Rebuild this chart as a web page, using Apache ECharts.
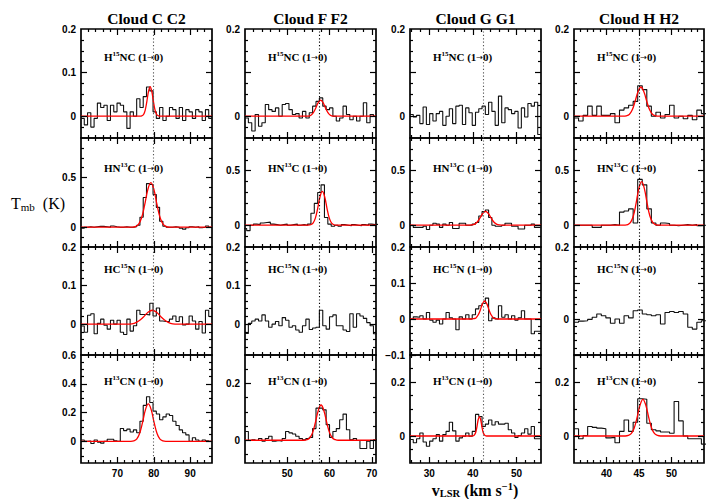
<!DOCTYPE html>
<html><head><meta charset="utf-8">
<script src="https://cdn.jsdelivr.net/npm/echarts@6/dist/echarts.min.js"></script>
<style>html,body{margin:0;padding:0;background:#fff}#c{width:707px;height:499px}</style>
</head><body><div id="c"></div>
<script>
// ---------------- data ----------------
const cloudTitles = ['Cloud C C2', 'Cloud F F2', 'Cloud G G1', 'Cloud H H2'];
const lineNames = [['H', '15', 'NC'], ['HN', '13', 'C'], ['HC', '15', 'N'], ['H', '13', 'CN']];
const transitionParts = ['(1', '\u2192', '0)'];
const xRanges = [[60, 96], [40, 71], [25.6, 55.6], [35, 55]];
const xTickLabels = [[70, 80, 90], [50, 60, 70], [30, 40, 50], [40, 45, 50]];
const xMinorSteps = [2, 2, 2, 1];
const systemicV = [79.9, 57.5, 42.4, 45.0];
const yRanges = [
  [[-0.05, 0.2], [-0.05, 0.2], [-0.05, 0.2], [-0.05, 0.2]],
  [[-0.2, 0.9], [-0.2, 0.8], [-0.2, 0.8], [-0.2, 0.8]],
  [[-0.08, 0.2], [-0.08, 0.2], [-0.1, 0.2], [-0.1, 0.2]],
  [[-0.15, 0.6], [-0.08, 0.3], [-0.1, 0.3], [-0.1, 0.3]]
];
const yTicks = [
  [[0, 0.1], [0, 0.1], [0, 0.1], [0, 0.1]],
  [[0, 0.5], [0, 0.5], [0, 0.5], [0, 0.5]],
  [[0, 0.1], [0, 0.1], [-0.1, 0, 0.1], [-0.1, 0, 0.1]],
  [[0, 0.2, 0.4], [0, 0.2], [0, 0.2], [0, 0.2]]
];
const yTickLabels = [
  [[0, 0.1, 0.2], [0, 0.2], [0, 0.2], [0, 0.2]],
  [[0, 0.5], [0, 0.5], [0, 0.5], [0, 0.5]],
  [[0, 0.1, 0.2], [0, 0.1, 0.2], [-0.1, 0, 0.1, 0.2], [0, 0.2]],
  [[0, 0.2, 0.4, 0.6], [0, 0.2], [0, 0.2], [0, 0.2]]
];
const yMinorSteps = [
  [0.025, 0.025, 0.025, 0.025],
  [0.1, 0.1, 0.1, 0.1],
  [0.02, 0.02, 0.02, 0.02],
  [0.05, 0.05, 0.05, 0.05]
];
// channel grid: first channel left edge [row][col], channel width per column (km/s)
const chanStart = [[60, 40, 25.6, 35], [60, 39.6, 25.6, 35], [60, 40, 25.6, 35], [60, 40, 25.6, 35]];
const chanWidth = [0.9, 0.8, 0.75, 0.7];

// spectra (T_mb, K)
const tC_H15NC = [-0.005,-0.02,0.008,-0.025,-0.005,0.03,0.02,0.025,-0.01,0.025,0.01,0.03,0.025,0.01,-0.028,0.01,0.0,0.04,0.02,0.045,0.067,0.058,0.01,-0.005,0.02,-0.01,0.0,0.02,0.015,-0.005,0.02,-0.01,0.015,0.01,-0.005,0.015,0.01,-0.01,0.015,-0.005];
const tF_H15NC = [-0.004,-0.015,-0.034,0.004,-0.023,-0.015,0.027,0.015,0.011,0.019,0.0,0.027,0.029,0.015,0.004,0.006,-0.004,0.011,-0.004,0.008,0.023,0.034,0.042,0.023,0.015,0.019,0.0,-0.011,-0.004,0.023,0.004,-0.008,0.0,-0.011,0.0,0.031,-0.015,0.004,0.0];
const tG_H15NC = [0.004,-0.002,0.002,-0.017,0.021,-0.019,0.006,-0.011,0.006,0.011,-0.021,0.0,0.017,-0.017,0.023,0.025,-0.019,0.019,0.008,-0.021,0.009,0.017,0.023,0.004,0.032,0.011,-0.021,0.046,-0.015,0.019,0.015,0.006,0.011,-0.027,0.019,-0.002,0.029,0.023,0.032,-0.042];
const tH_H15NC = [-0.004,-0.011,0.002,0.023,0.002,0.023,0.002,0.002,0.006,-0.015,0.014,0.019,0.025,0.034,0.07,0.061,0.023,0.0,0.009,-0.004,0.004,0.025,-0.004,0.0,-0.006,0.002,-0.008,0.014,0.006];

const tC_HN13C = [-0.01,0.0,0.005,0.0,0.005,0.01,0.008,0.005,0.0,0.012,0.005,0.0,0.0,0.005,0.0,0.0,0.005,0.02,0.1,0.3,0.44,0.43,0.33,0.2,0.06,0.01,0.0,0.0,0.005,0.0,-0.01,-0.02,-0.005,0.005,0.0,0.005,-0.005,0.0,0.012,0.0];
const tF_HN13C = [-0.03,-0.05,0.0,0.01,0.005,0.02,0.025,0.028,0.01,0.005,0.0,0.005,0.01,0.0,0.005,0.01,0.0,0.005,0.0,0.01,0.11,0.2,0.3,0.37,0.07,0.01,-0.01,0.0,-0.01,0.005,0.0,-0.005,0.005,0.0,-0.005,0.005,0.0,0.01,0.005,0.008];
const tG_HN13C = [0.0,-0.02,-0.02,-0.02,-0.01,-0.04,0.0,0.018,0.01,-0.02,0.01,0.0,0.025,-0.03,-0.03,0.018,0.018,0.0,0.0,0.01,0.025,0.085,0.125,0.14,0.07,0.0,-0.01,-0.01,0.0,0.018,0.018,-0.01,-0.01,-0.035,-0.035,0.0,0.0,0.01,-0.02,-0.02];
const tH_HN13C = [0.0,0.0,0.0,0.0,-0.02,-0.02,0.0,0.0,0.005,0.0,0.12,0.13,0.15,0.02,0.42,0.37,0.15,0.02,0.0,0.02,0.015,0.0,-0.005,0.0,0.005,0.0,0.005,-0.005,0.0];

const tC_HC15N = [-0.005,-0.021,0.023,0.027,-0.025,0.002,0.013,-0.003,-0.013,0.01,0.0,0.01,-0.021,-0.027,0.013,-0.018,-0.004,0.036,0.025,0.025,0.024,0.054,0.021,0.042,0.008,0.007,0.007,0.013,0.021,0.007,0.019,-0.002,0.0,0.021,0.008,-0.013,0.007,-0.023,0.036,0.02];
const tF_HC15N = [-0.024,0.002,0.008,0.013,0.008,0.024,0.008,-0.008,0.0,0.007,-0.004,0.017,0.01,-0.008,-0.004,-0.015,-0.021,-0.004,0.013,-0.014,-0.01,-0.008,0.036,-0.004,-0.013,0.019,0.024,-0.004,-0.004,-0.015,-0.019,0.027,-0.008,0.027,0.021,0.015,0.004,-0.004,-0.025];
const tG_HC15N = [0.0,0.006,0.005,0.009,0.0,0.018,-0.003,-0.009,-0.003,-0.014,0.0,0.018,0.003,0.0,-0.03,0.006,0.0,0.012,0.0,0.012,0.028,0.037,0.043,0.058,-0.005,0.003,0.0,0.037,0.005,0.012,0.0,0.009,-0.003,0.003,0.023,0.0,0.0,-0.041,-0.034,-0.034];
const tH_HC15N = [-0.009,-0.006,-0.005,-0.001,0.005,0.014,0.009,0.003,-0.012,0.0,-0.012,0.009,0.003,0.023,0.025,0.014,0.012,0.009,0.012,-0.014,0.018,0.021,0.018,0.021,0.014,-0.023,-0.028,-0.009,-0.005];

const tC_H13CN = [0.01,0.0,0.003,-0.015,0.01,-0.005,-0.012,0.0,0.015,0.015,0.005,0.0,0.09,0.075,0.085,0.065,0.08,0.06,0.14,0.25,0.31,0.27,0.21,0.19,0.15,0.17,0.19,0.18,0.14,0.11,0.08,0.06,0.045,0.0,0.025,0.01,0.0,0.01,0.005,0.0];
const tF_H13CN = [0.031,-0.001,0.002,-0.001,0.006,-0.003,0.006,0.014,-0.003,-0.001,-0.003,0.006,0.031,0.026,0.022,0.014,0.006,0.002,0.006,0.01,0.041,0.113,0.113,0.107,0.055,0.01,0.031,0.041,0.072,0.092,0.037,0.002,0.006,-0.001,-0.029,-0.029,-0.003,-0.029,0.002];
const tG_H13CN = [-0.013,-0.025,-0.01,0.011,-0.022,-0.038,-0.019,-0.01,0.005,-0.019,0.005,0.017,0.051,0.019,-0.019,-0.007,-0.001,0.011,-0.001,0.017,0.08,0.072,0.035,0.044,0.059,0.041,0.053,0.044,0.044,0.047,0.023,0.011,-0.005,0.002,0.011,0.027,0.007,0.035,-0.01,-0.01];
const tH_H13CN = [0.027,-0.01,0.002,0.035,0.032,0.029,0.027,-0.007,-0.005,-0.025,0.017,0.059,0.017,0.051,0.138,0.136,0.047,0.023,0.019,0.015,0.015,0.01,0.128,0.056,0.0,-0.01,-0.01,-0.01,-0.03];

// Gaussian fit curves (samples from fitStart in steps of fitStep)
const fC_H15NC = [0,0.001,0.004,0.014,0.034,0.057,0.068,0.057,0.034,0.014,0.004,0.001,0];
const fF_H15NC = [0,0,0.002,0.008,0.019,0.031,0.037,0.031,0.019,0.008,0.002,0,0];
const fH_H15NC = [0,0.001,0.004,0.014,0.034,0.056,0.067,0.056,0.034,0.014,0.004,0.001,0];
const fC_HN13C = [0.001,0.006,0.028,0.095,0.225,0.378,0.45,0.378,0.225,0.095,0.028,0.006,0.001];
const fF_HN13C = [0.001,0.004,0.019,0.065,0.155,0.261,0.31,0.261,0.155,0.065,0.019,0.004,0.001];
const fG_HN13C = [0,0.002,0.008,0.027,0.064,0.107,0.127,0.107,0.064,0.027,0.008,0.002,0];
const fH_HN13C = [0.001,0.005,0.025,0.084,0.2,0.336,0.4,0.336,0.2,0.084,0.025,0.005,0.001];
const fC_HC15N = [0,0,0.002,0.008,0.018,0.03,0.036,0.03,0.018,0.008,0.002,0,0];
const fG_HC15N = [0,0.001,0.003,0.011,0.025,0.042,0.05,0.042,0.025,0.011,0.003,0.001,0];
const fC_H13CN = [0,0.003,0.016,0.055,0.13,0.219,0.26,0.219,0.13,0.055,0.016,0.003,0];
const fF_H13CN = [0,0.002,0.008,0.026,0.062,0.104,0.124,0.104,0.062,0.026,0.008,0.002,0];
const fG_H13CN = [0,0.001,0.005,0.015,0.036,0.061,0.072,0.061,0.036,0.015,0.005,0.001,0];
const fH_H13CN = [0,0.002,0.009,0.029,0.068,0.114,0.136,0.114,0.068,0.029,0.009,0.002,0];
const fitStart = [[76.3, 54.45, null, 42.6], [74.1, 55.0, 39.0, 42.85], [72.1, null, 39.7, null], [73.7, 53.95, 39.85, 42.9]];
const fitStep = [[0.45, 0.575, null, 0.45], [0.85, 0.55, 0.65, 0.425], [1.25, null, 0.5, null], [0.8, 0.675, 0.275, 0.45]];

const spectra = [
  [tC_H15NC, tF_H15NC, tG_H15NC, tH_H15NC],
  [tC_HN13C, tF_HN13C, tG_HN13C, tH_HN13C],
  [tC_HC15N, tF_HC15N, tG_HC15N, tH_HC15N],
  [tC_H13CN, tF_H13CN, tG_H13CN, tH_H13CN]
];
const fits = [
  [fC_H15NC, fF_H15NC, null, fH_H15NC],
  [fC_HN13C, fF_HN13C, fG_HN13C, fH_HN13C],
  [fC_HC15N, null, fG_HC15N, null],
  [fC_H13CN, fF_H13CN, fG_H13CN, fH_H13CN]
];

// ---------------- layout ----------------
const gridLefts = [81, 245, 410, 574], gridWidths = [131, 131, 131, 130];
const gridTops = [29, 138, 247, 355], gridHeights = [109, 109, 108, 108];
const labelOffsetX = 23, labelOffsetY = [28, 30, 22, 26];
const vlineColors = ['#555', '#000', '#555', '#000'];
const SERIF = '"Liberation Serif","DejaVu Serif",serif';
const SANS = '"Liberation Sans","DejaVu Sans",sans-serif';

function minorVals(min, max, step, majors) {
  const out = [];
  const k0 = Math.ceil(min / step - 1e-9);
  for (let k = k0; k * step <= max + 1e-9; k++) {
    const v = +(k * step).toFixed(6);
    if (v <= min + 1e-9 || v >= max - 1e-9) continue;
    if (majors.some(m => Math.abs(m - v) < 1e-9)) continue;
    out.push(v);
  }
  return out;
}
const fmt = v => (v < 0 ? '\u2212' + String(-v) : String(v));
function mkAxis(g, min, max, pos, ticks, len, labels) {
  return {
    type: 'value', gridIndex: g, min: min, max: max, position: pos,
    axisLine: { show: false, onZero: false },
    splitLine: { show: false },
    axisTick: { show: true, inside: true, length: len, customValues: ticks, lineStyle: { color: '#000', width: 1.2 } },
    axisLabel: labels ? {
      show: true, customValues: labels, margin: 5, fontFamily: SANS, fontWeight: 'bold',
      fontSize: 10, color: '#000', formatter: fmt
    } : { show: false },
    z: 5
  };
}
function stepData(start, dv, vals) {
  const d = vals.map((v, i) => [+(start + i * dv).toFixed(4), v]);
  d.push([+(start + vals.length * dv).toFixed(4), vals[vals.length - 1]]);
  return d;
}
function fitData(start, step, vals, x0, x1) {
  const d = [[x0, 0]];
  vals.forEach((v, i) => d.push([+(start + i * step).toFixed(4), v]));
  d.push([x1, 0]);
  return d;
}

const grids = [], xAxes = [], yAxes = [], series = [], graphics = [];
for (let r = 0; r < 4; r++) {
  for (let c = 0; c < 4; c++) {
    const g = grids.length;
    grids.push({ left: gridLefts[c], top: gridTops[r], width: gridWidths[c], height: gridHeights[r],
      show: true, borderColor: '#000', borderWidth: 1.7, backgroundColor: 'rgba(0,0,0,0)' });
    const [x0, x1] = xRanges[c];
    const [y0, y1] = yRanges[r][c];
    const xMaj = xTickLabels[c];
    const xMin = minorVals(x0, x1, xMinorSteps[c], xMaj);
    const yMaj = yTicks[r][c];
    const yMin = minorVals(y0, y1, yMinorSteps[r][c], yMaj.concat(yTickLabels[r][c]));
    const xi = xAxes.length, yi = yAxes.length;
    xAxes.push(mkAxis(g, x0, x1, 'bottom', xMaj, 6, r === 3 ? xTickLabels[c] : null));
    xAxes.push(mkAxis(g, x0, x1, 'top', xMaj, 6, null));
    xAxes.push(mkAxis(g, x0, x1, 'bottom', xMin, 3, null));
    xAxes.push(mkAxis(g, x0, x1, 'top', xMin, 3, null));
    yAxes.push(mkAxis(g, y0, y1, 'left', yMaj, 6, yTickLabels[r][c]));
    yAxes.push(mkAxis(g, y0, y1, 'right', yMaj, 6, null));
    yAxes.push(mkAxis(g, y0, y1, 'left', yMin, 3, null));
    yAxes.push(mkAxis(g, y0, y1, 'right', yMin, 3, null));

    series.push({
      type: 'line', xAxisIndex: xi, yAxisIndex: yi, step: 'end', symbol: 'none',
      data: stepData(chanStart[r][c], chanWidth[c], spectra[r][c]),
      lineStyle: { color: '#111', width: 1.1 }, silent: true, clip: true, z: 2,
      markLine: {
        silent: true, symbol: ['none', 'none'], label: { show: false },
        lineStyle: { type: [1.2, 2.2], color: vlineColors[c], width: 1.1 },
        data: [{ xAxis: systemicV[c] }], animation: false
      }
    });
    if (fits[r][c]) {
      series.push({
        type: 'line', xAxisIndex: xi, yAxisIndex: yi, symbol: 'none', smooth: 0.4,
        data: fitData(fitStart[r][c], fitStep[r][c], fits[r][c], x0, x1),
        lineStyle: { color: '#ff0000', width: 1.3 }, silent: true, clip: true, z: 3
      });
    }
    const nm = lineNames[r];
    graphics.push({
      type: 'text', x: gridLefts[c] + labelOffsetX, y: gridTops[r] + labelOffsetY[r],
      style: {
        text: '{m|' + nm[0] + '}{s|' + nm[1] + '}{m|' + nm[2] + ' ' + transitionParts[0] + '}{ar|' +
          transitionParts[1] + '}{m|' + transitionParts[2] + '}',
        textAlign: 'left', textVerticalAlign: 'middle', fill: '#000',
        rich: {
          m: { fontFamily: SERIF, fontWeight: 'bold', fontSize: 11, lineHeight: 13, fill: '#000' },
          s: { fontFamily: SERIF, fontWeight: 'bold', fontSize: 7, lineHeight: 8, verticalAlign: 'top', fill: '#000' },
          ar: { fontFamily: '"DejaVu Sans",sans-serif', fontSize: 8, lineHeight: 13, fill: '#000' }
        }
      }
    });
  }
}
for (let c = 0; c < 4; c++) {
  graphics.push({
    type: 'text', x: gridLefts[c] + gridWidths[c] / 2, y: 18,
    style: { text: cloudTitles[c], font: 'bold 15.5px ' + SERIF, textAlign: 'center', textVerticalAlign: 'middle', fill: '#000' }
  });
}
graphics.push({
  type: 'text', x: 11, y: 203,
  style: {
    text: '{a|T}{b|mb}{a|  (K)}', textAlign: 'left', textVerticalAlign: 'middle', fill: '#000',
    rich: {
      a: { fontFamily: SERIF, fontSize: 16, lineHeight: 19, fill: '#000' },
      b: { fontFamily: SERIF, fontSize: 11, lineHeight: 11, verticalAlign: 'bottom', fill: '#000' }
    }
  }
});
graphics.push({
  type: 'text', x: 475, y: 490,
  style: {
    text: '{a|v}{b|LSR}{a| (km s}{c|\u22121}{a|)}', textAlign: 'center', textVerticalAlign: 'middle', fill: '#000',
    rich: {
      a: { fontFamily: SERIF, fontWeight: 'bold', fontSize: 16, lineHeight: 18, fill: '#000' },
      b: { fontFamily: SERIF, fontWeight: 'bold', fontSize: 10.5, lineHeight: 10, verticalAlign: 'bottom', fill: '#000' },
      c: { fontFamily: SERIF, fontWeight: 'bold', fontSize: 10.5, lineHeight: 10, verticalAlign: 'top', fill: '#000' }
    }
  }
});

const chart = echarts.init(document.getElementById('c'), null, { renderer: 'svg', width: 707, height: 499 });
chart.setOption({
  animation: false,
  backgroundColor: '#fff',
  grid: grids, xAxis: xAxes, yAxis: yAxes, series: series, graphic: graphics
});
</script>
</body></html>
